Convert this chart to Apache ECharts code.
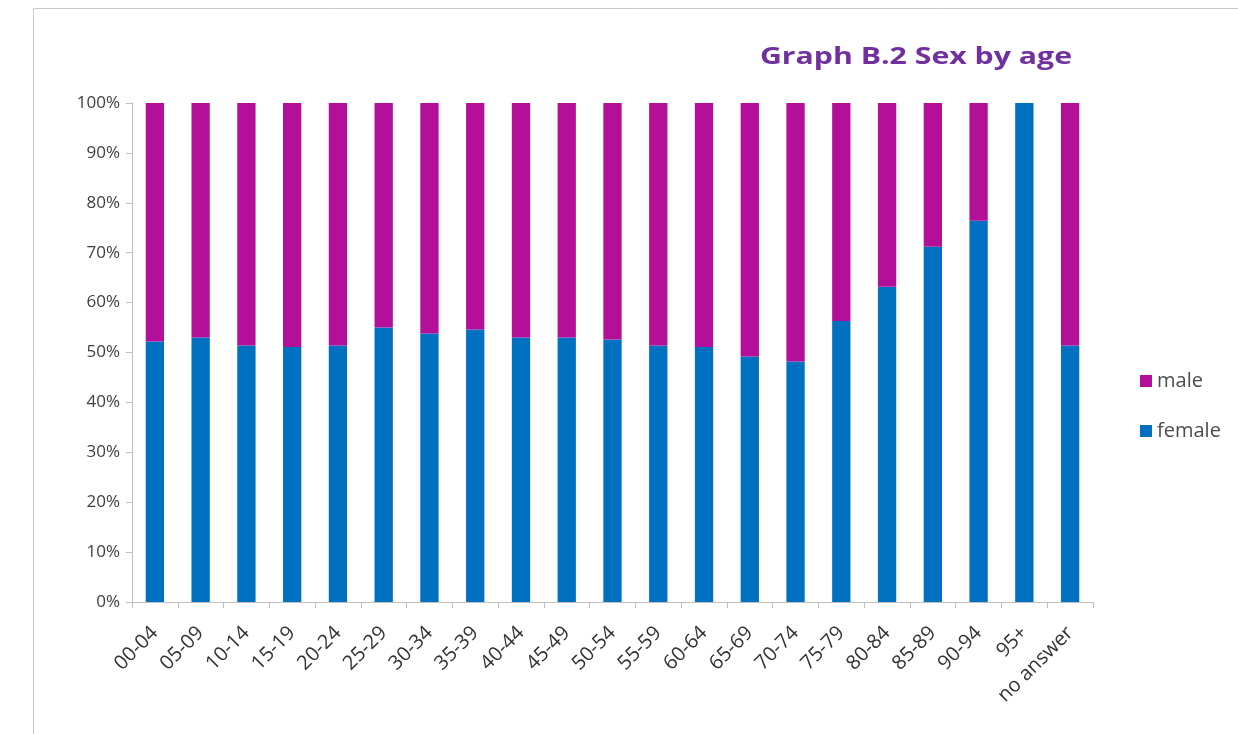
<!DOCTYPE html>
<html>
<head>
<meta charset="utf-8">
<script src="https://cdn.jsdelivr.net/npm/echarts@6/dist/echarts.min.js"></script>
<style>
  html, body { margin: 0; padding: 0; background: #fff; }
  #chart { width: 1238px; height: 734px; }
</style>
</head>
<body>
<div id="chart"></div>
<script>
const ageGroups = ["00-04", "05-09", "10-14", "15-19", "20-24", "25-29", "30-34", "35-39", "40-44", "45-49",
  "50-54", "55-59", "60-64", "65-69", "70-74", "75-79", "80-84", "85-89", "90-94", "95+", "no answer"];
const femaleShare = [52.2, 53.0, 51.4, 51.1, 51.4, 55.0, 53.8, 54.6, 53.0, 53.0,
  52.6, 51.4, 51.1, 49.2, 48.2, 56.3, 63.2, 71.2, 76.4, 100, 51.4];
const maleShare = [47.8, 47.0, 48.6, 48.9, 48.6, 45.0, 46.2, 45.4, 47.0, 47.0,
  47.4, 48.6, 48.9, 50.8, 51.8, 43.7, 36.8, 28.8, 23.6, 0, 48.6];

const chart = echarts.init(document.getElementById("chart"));

const labelFont = '"Open Sans", "Noto Sans", sans-serif';

chart.setOption({
  animation: false,
  backgroundColor: "#fff",
  graphic: [
    {
      type: "rect",
      shape: { x: 33.5, y: 8.5, width: 1220, height: 740 },
      style: { fill: "none", stroke: "#c8c8c8", lineWidth: 1 },
      silent: true
    },
    {
      // title is drawn a little stretched, like the source picture
      type: "text",
      x: 1072,
      y: 57,
      scaleX: 1.26,
      style: {
        text: "Graph B.2 Sex by age",
        x: 0,
        y: 0,
        align: "right",
        verticalAlign: "middle",
        fill: "#7030a0",
        font: 'bold 24px "Open Sans", sans-serif'
      },
      silent: true
    }
  ],
  legend: {
    orient: "vertical",
    left: 1135,
    top: 364,
    itemWidth: 12,
    itemHeight: 12,
    itemGap: 26,
    icon: "rect",
    data: ["male", "female"],
    textStyle: { color: "#4d4d4d", fontFamily: labelFont, fontSize: 20, lineHeight: 24 }
  },
  grid: { left: 132, right: 145, top: 103, bottom: 132 },
  xAxis: {
    type: "category",
    data: ageGroups,
    axisLine: { lineStyle: { color: "#bfbfbf" } },
    axisTick: { show: true, length: 6, lineStyle: { color: "#bfbfbf" } },
    axisLabel: {
      rotate: 45,
      interval: 0,
      color: "#333333",
      fontFamily: labelFont,
      fontSize: 20,
      margin: 28
    }
  },
  yAxis: {
    type: "value",
    min: 0,
    max: 100,
    interval: 10,
    axisLine: { show: true, lineStyle: { color: "#bfbfbf" } },
    axisTick: { show: true, length: 6, lineStyle: { color: "#bfbfbf" } },
    splitLine: { show: false },
    axisLabel: {
      formatter: "{value}%",
      color: "#404040",
      fontFamily: labelFont,
      fontSize: 17,
      margin: 12
    }
  },
  series: [
    {
      name: "female",
      type: "bar",
      stack: "share",
      barWidth: "40%",
      data: femaleShare,
      itemStyle: { color: "#0070c0" }
    },
    {
      name: "male",
      type: "bar",
      stack: "share",
      barWidth: "40%",
      data: maleShare,
      itemStyle: { color: "#b40f99" }
    }
  ]
});
</script>
</body>
</html>
